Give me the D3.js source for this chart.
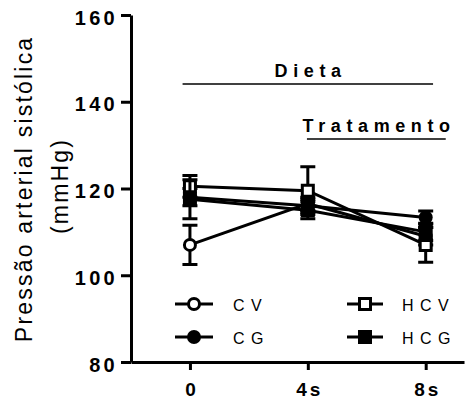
<!DOCTYPE html>
<html>
<head>
<meta charset="utf-8">
<script src="https://cdn.jsdelivr.net/npm/d3@7"></script>
<style>
body { margin: 0; background: #fff; }
svg { display: block; font-family: "Liberation Sans", Arial, sans-serif; }
</style>
</head>
<body>
<div id="chart"></div>
<script>
// time points (weeks) and their labels
var timepoints = [0, 4, 8];
var timeLabels = ["0", "4s", "8s"];
var yTicks = [80, 100, 120, 140, 160];

// mean +- SEM per group
var groups  = ["CV", "CG", "HCV", "HCG"];
var meanCV  = [107, 116.5, 109];
var semCV   = [4.5, 1.5, 2];
var meanCG  = [118, 116, 113.3];
var semCG   = [2, 1.5, 1.5];
var meanHCV = [120.5, 119.5, 107];
var semHCV  = [2.5, 5.5, 4];
var meanHCG = [117.5, 115, 110];
var semHCG  = [4.5, 2, 2];

var width = 475, height = 401;

var series = [
    {name: groups[0], mean: meanCV,  sem: semCV,  shape: d3.symbolCircle, filled: false},
    {name: groups[1], mean: meanCG,  sem: semCG,  shape: d3.symbolCircle, filled: true},
    {name: groups[2], mean: meanHCV, sem: semHCV, shape: d3.symbolSquare, filled: false},
    {name: groups[3], mean: meanHCG, sem: semHCG, shape: d3.symbolSquare, filled: true}
];

var x = d3.scaleLinear().domain([-2, 9.3]).range([131, 464]);
var y = d3.scaleLinear().domain([80, 160]).range([362, 15]);

var svg = d3.select("#chart").append("svg")
    .attr("width", width).attr("height", height);

// marker path: open markers are drawn a bit smaller so the stroke fits in the same box
function marker(s) {
    var side = s.filled ? 14 : 11;
    var size = s.shape === d3.symbolCircle ? Math.PI * (side / 2) * (side / 2) : side * side;
    return d3.symbol().type(s.shape).size(size)();
}

// axes
var yAxis = svg.append("g").attr("transform", "translate(" + x(-2) + ",0)")
    .call(d3.axisLeft(y).tickValues(yTicks).tickSize(10).tickSizeOuter(0).tickPadding(3));
var xAxis = svg.append("g").attr("transform", "translate(0," + y(80) + ")")
    .call(d3.axisBottom(x).tickValues(timepoints).tickSize(8).tickSizeOuter(0).tickPadding(13)
        .tickFormat(function(d, i) { return timeLabels[i]; }));

[yAxis, xAxis].forEach(function(g) {
    g.select(".domain").attr("stroke", "#000").attr("stroke-width", 3);
    g.selectAll(".tick line").attr("stroke", "#000").attr("stroke-width", 3);
    g.selectAll(".tick text").attr("fill", "#000")
        .style("font-weight", "bold")
        .style("font-family", "'Liberation Sans', Arial, sans-serif");
});
yAxis.selectAll(".tick text").attr("dy", "0.45em")
    .style("font-size", "20px").style("letter-spacing", "3.3px");
xAxis.selectAll(".tick text").attr("dx", "1.5px")
    .style("font-size", "19px").style("letter-spacing", "3px");

// y title
var title = svg.append("g").attr("transform", "translate(32,190) rotate(-90)");
title.append("text").attr("text-anchor", "middle").attr("dx", 1.1)
    .style("font-size", "23px").style("letter-spacing", "2.2px")
    .text("Pressão arterial sistólica");
title.append("text").attr("text-anchor", "middle").attr("x", 3).attr("y", 36).attr("dx", 1.1)
    .style("font-size", "23px").style("letter-spacing", "2.2px")
    .text("(mmHg)");

// Dieta / Tratamento brackets
var brackets = [
    {label: "Dieta", x0: -0.25, x1: 8.25, ly: 84},
    {label: "Tratamento", x0: 3.97, x1: 8.68, ly: 139}
];
brackets.forEach(function(b) {
    svg.append("line").attr("x1", x(b.x0)).attr("x2", x(b.x1))
        .attr("y1", b.ly).attr("y2", b.ly).attr("stroke", "#000").attr("stroke-width", 1.5);
    svg.append("text").attr("x", (x(b.x0) + x(b.x1)) / 2).attr("y", b.ly - 7)
        .attr("text-anchor", "middle").attr("dx", 2.8)
        .style("font-size", "18px").style("font-weight", "bold").style("letter-spacing", "5.6px")
        .text(b.label);
});

// connecting lines
var line = d3.line().x(function(d, i) { return x(timepoints[i]); }).y(function(d) { return y(d); });
svg.selectAll(".series-line").data(series).enter().append("path")
    .attr("class", "series-line")
    .attr("d", function(s) { return line(s.mean); })
    .attr("fill", "none").attr("stroke", "#000").attr("stroke-width", 3);

// error bars and markers, one group per series
var cap = 7.5;
series.forEach(function(s) {
    var g = svg.append("g");
    s.mean.forEach(function(m, i) {
        var cx = x(timepoints[i]), lo = y(m - s.sem[i]), hi = y(m + s.sem[i]);
        g.append("path")
            .attr("d", "M" + cx + "," + lo + "V" + hi +
                "M" + (cx - cap) + "," + hi + "H" + (cx + cap) +
                "M" + (cx - cap) + "," + lo + "H" + (cx + cap))
            .attr("stroke", "#000").attr("stroke-width", 3).attr("fill", "none");
        g.append("path").attr("d", marker(s))
            .attr("transform", "translate(" + cx + "," + y(m) + ")")
            .attr("fill", s.filled ? "#000" : "#fff")
            .attr("stroke", "#000").attr("stroke-width", s.filled ? 0 : 3);
    });
});

// legend
var legendCols = [{x0: 175, x1: 213, tx: 233}, {x0: 347, x1: 383, tx: 402}];
var legendRows = [304, 337];
series.forEach(function(s, i) {
    var col = legendCols[Math.floor(i / 2)], ry = legendRows[i % 2];
    var g = svg.append("g");
    g.append("line").attr("x1", col.x0).attr("x2", col.x1).attr("y1", ry).attr("y2", ry)
        .attr("stroke", "#000").attr("stroke-width", 3);
    g.append("path").attr("d", marker(s))
        .attr("transform", "translate(" + ((col.x0 + col.x1) / 2) + "," + ry + ")")
        .attr("fill", s.filled ? "#000" : "#fff")
        .attr("stroke", "#000").attr("stroke-width", s.filled ? 0 : 3);
    g.append("text").attr("x", col.tx).attr("y", ry + 7)
        .style("font-size", "16px").style("letter-spacing", "6.5px")
        .text(s.name);
});
</script>
</body>
</html>
